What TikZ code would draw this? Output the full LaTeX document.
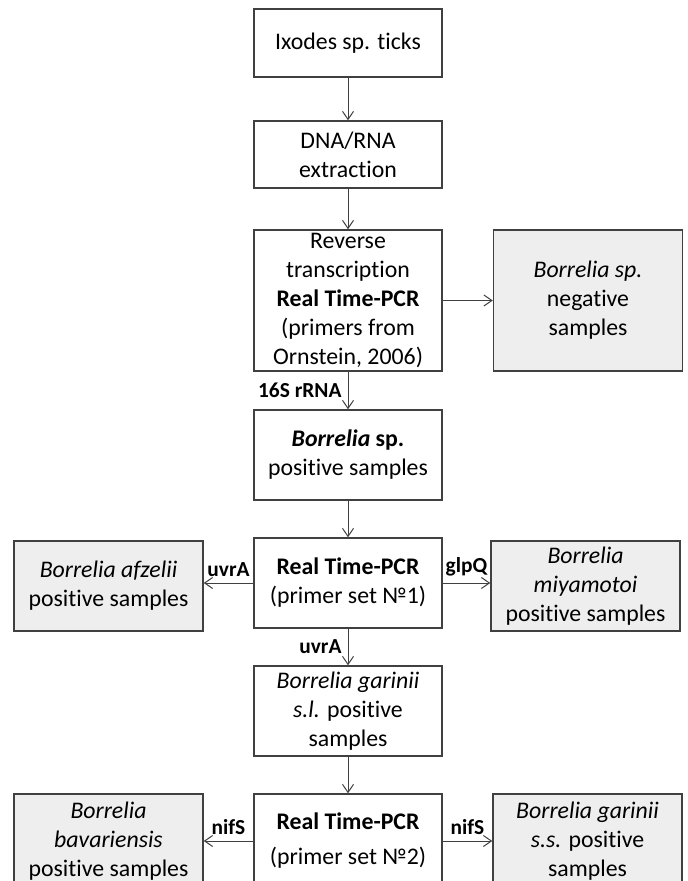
\documentclass[tikz,border=0pt]{standalone}
\usepackage{fontspec}
\setmainfont[Ligatures=NoCommon]{Carlito}
\usepackage{tikz}
\usetikzlibrary{positioning, arrows.meta}
\definecolor{boxline}{HTML}{404040}
\definecolor{resultgray}{HTML}{EEEEEE}

\tikzset{
  stepbox/.style={draw=boxline, line width=0.75pt, fill=white, align=center,
    inner sep=1pt, minimum width=94pt, font=\fontsize{11.9}{14.5}\selectfont},
  resultbox/.style={stepbox, fill=resultgray, minimum width=94.5pt},
  flowarrow/.style={draw=boxline, line width=0.5pt,
    -{Straight Barb[length=4pt, width=5.5pt]}},
  genelabel/.style={font=\fontsize{10.7}{12}\selectfont\bfseries, inner sep=3pt},
}

\begin{document}
\begin{tikzpicture}[x=0.5pt, y=-0.5pt]
  \useasboundingbox (0,0) rectangle (687,881);
  \clip (0,0) rectangle (687,881);
  \fill[white] (0,0) rectangle (687,881);

  % main column
  \node[stepbox, minimum height=34pt] (ticks) at (348,43) {Ixodes sp. ticks};
  \node[stepbox, minimum height=33.5pt] (dna) at (348,154.5) {DNA/RNA\\extraction};
  \node[stepbox, minimum height=70.5pt] (rt) at (348,300.5)
    {Reverse\\transcription\\\textbf{Real Time-PCR}\\(primers from\\Ornstein, 2006)};
  \node[stepbox, minimum height=45pt] (pos) at (348,455)
    {\textbf{\textit{Borrelia} sp.}\\positive samples};
  \node[stepbox, minimum height=45pt] (pcr1) at (348,583)
    {\textbf{Real Time-PCR}\\(primer set №1)};
  \node[stepbox, minimum height=45pt] (gsl) at (348,711)
    {\textit{Borrelia garinii}\\\textit{s.l.} positive\\samples};
  \node[stepbox, minimum height=47pt] (pcr2) at (348,841)
    {\textbf{Real Time-PCR}\\[3pt](primer set №2)};

  % results
  \node[resultbox, minimum height=70.5pt] (neg) at (588,300.5)
    {\textit{Borrelia sp.}\\negative\\samples};
  \node[resultbox, minimum height=45pt] (afz) at (108.5,586)
    {\textit{Borrelia afzelii}\\positive samples};
  \node[resultbox, minimum height=45pt] (miy) at (585.5,586)
    {\textit{Borrelia}\\\textit{miyamotoi}\\positive samples};
  \node[resultbox, minimum height=47pt] (bav) at (108.5,841)
    {\textit{Borrelia}\\\textit{bavariensis}\\positive samples};
  \node[resultbox, minimum height=47pt] (gss) at (587.5,841)
    {\textit{Borrelia garinii}\\\textit{s.s.} positive\\samples};

  % arrows
  \draw[flowarrow] (ticks) -- (dna);
  \draw[flowarrow] (dna) -- (rt);
  \draw[flowarrow] (rt) -- (neg);
  \draw[flowarrow] (rt) -- node[genelabel, left] {16S rRNA} (pos);
  \draw[flowarrow] (pos) -- (pcr1);
  \draw[flowarrow] (pcr1.west) -- node[genelabel, above] {uvrA} (pcr1.west -| afz.east);
  \draw[flowarrow] (pcr1.east) -- node[genelabel, above] {glpQ} (pcr1.east -| miy.west);
  \draw[flowarrow] (pcr1) -- node[genelabel, left] {uvrA} (gsl);
  \draw[flowarrow] (gsl) -- (pcr2);
  \draw[flowarrow] (pcr2.west) -- node[genelabel, above] {nifS} (pcr2.west -| bav.east);
  \draw[flowarrow] (pcr2.east) -- node[genelabel, above] {nifS} (pcr2.east -| gss.west);
\end{tikzpicture}
\end{document}
